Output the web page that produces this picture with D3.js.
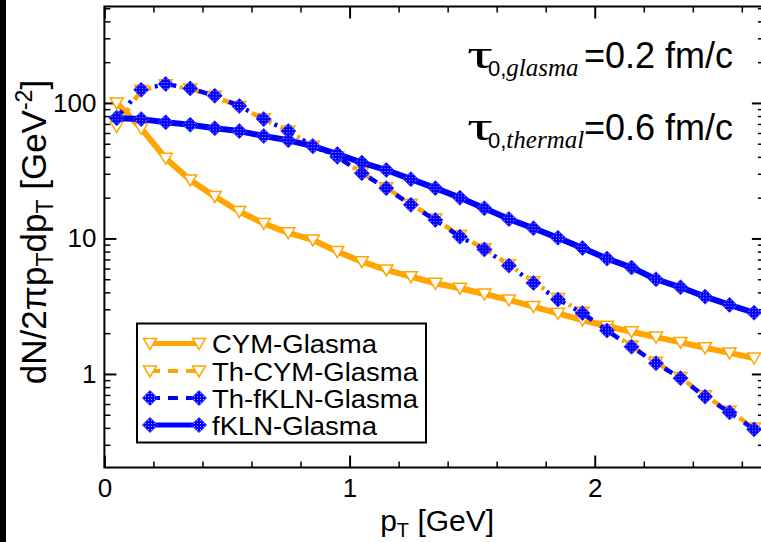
<!DOCTYPE html>
<html><head><meta charset="utf-8">
<script src="https://cdn.jsdelivr.net/npm/d3@7"></script>
<style>body{margin:0;background:#fff} svg{display:block}</style>
</head><body><svg id="chart" width="761" height="542"></svg>
<script>
// ---- data ----
const pT = [0.05,0.15,0.25,0.35,0.45,0.55,0.65,0.75,0.85,0.95,1.05,1.15,1.25,1.35,1.45,1.55,1.65,1.75,1.85,1.95,2.05,2.15,2.25,2.35,2.45,2.55,2.65];
const cymGlasma = [100,65,39,27,20.4,15.8,12.9,11.0,9.75,8.0,6.74,5.86,5.22,4.67,4.29,3.89,3.52,3.14,2.8,2.5,2.25,2.05,1.87,1.71,1.56,1.43,1.31];
const thCymGlasma = [67,124,136,127,112,94,76,62,48,40,30.5,23.7,17.9,13.9,10.5,8.4,6.4,4.8,3.6,2.85,2.12,1.61,1.22,0.94,0.69,0.53,0.40];
const thFklnGlasma = [78,125,138,128,113,95,76,62,48,40,30.3,23.5,17.7,13.7,10.3,8.3,6.3,4.7,3.55,2.81,2.09,1.59,1.20,0.93,0.68,0.52,0.39];
const fklnGlasma = [77,76,72,69,65,62,57,53,48,42,36.3,32.0,27.4,23.5,20.0,16.7,13.9,11.9,10.1,8.5,7.1,6.1,5.0,4.36,3.72,3.23,2.83];
const seriesNames = ["CYM-Glasma","Th-CYM-Glasma","Th-fKLN-Glasma","fKLN-Glasma"];
const xMajorTicks = [0,1,2];
const xMinorTicks = [0.2,0.4,0.6,0.8,1.2,1.4,1.6,1.8,2.2,2.4,2.6];
const yMajorTicks = [1,10,100];
const yMinorTicks = [0.3,0.4,0.5,0.6,0.7,0.8,0.9,2,3,4,5,6,7,8,9,20,30,40,50,60,70,80,90,200,300,400,500];

// ---- layout ----
const L = 104.4, R = 763.9, T = 6.5, B = 467.5;
const ORANGE = "#ffa500", BLUE = "#0000ff";
const SANS = "'Liberation Sans', Arial, Helvetica, sans-serif";
const SERIF = "'Liberation Serif', 'Times New Roman', serif";

const svg = d3.select("#chart");
svg.append("rect").attr("width",761).attr("height",542).attr("fill","#fff");
svg.append("rect").attr("x",0).attr("y",0).attr("width",6).attr("height",542).attr("fill","#000");

const defs = svg.append("defs");
const pat = defs.append("pattern").attr("id","dots").attr("width",3).attr("height",3)
  .attr("patternUnits","userSpaceOnUse");
pat.append("rect").attr("width",3).attr("height",3).attr("fill",BLUE);
pat.append("rect").attr("x",1).attr("y",1).attr("width",1).attr("height",1).attr("fill","#a0a0ff");

const x = d3.scaleLinear().domain([0,2.69]).range([L,R]);
const y = d3.scaleLog().domain([0.204,515]).range([B,T]);

// ---- axes ----
function styleAxis(g, w){
  g.select(".domain").remove();
  g.selectAll(".tick line").attr("stroke","#000").attr("stroke-width",w);
  g.selectAll(".tick text").attr("font-family",SANS).attr("font-size",26).attr("fill","#000");
}
const ax = [
  [d3.axisBottom(x).tickValues(xMajorTicks).tickSize(-12).tickPadding(11).tickFormat(d3.format("d")), `translate(0,${B})`, 2],
  [d3.axisBottom(x).tickValues(xMinorTicks).tickSize(-6).tickFormat(""), `translate(0,${B})`, 1.5],
  [d3.axisTop(x).tickValues(xMajorTicks).tickSize(-12).tickFormat(""), `translate(0,${T})`, 2],
  [d3.axisTop(x).tickValues(xMinorTicks).tickSize(-6).tickFormat(""), `translate(0,${T})`, 1.5],
  [d3.axisLeft(y).tickValues(yMajorTicks).tickSize(-12).tickPadding(8).tickFormat(d3.format("d")), `translate(${L},0)`, 2],
  [d3.axisLeft(y).tickValues(yMinorTicks).tickSize(-6).tickFormat(""), `translate(${L},0)`, 1.5],
  [d3.axisRight(y).tickValues(yMajorTicks).tickSize(-12).tickFormat(""), `translate(${R},0)`, 2],
  [d3.axisRight(y).tickValues(yMinorTicks).tickSize(-6).tickFormat(""), `translate(${R},0)`, 1.5]
];
ax.forEach(([a,t,w]) => { const g = svg.append("g").attr("transform",t).call(a); styleAxis(g,w); });

// ---- series ----
const series = [
  {name:seriesNames[0], vals:cymGlasma, color:ORANGE, dash:null, marker:"tri", width:6, legendLen:165},
  {name:seriesNames[1], vals:thCymGlasma, color:ORANGE, dash:"9,10,3,10", marker:"tri", width:4.5, legendLen:206},
  {name:seriesNames[2], vals:thFklnGlasma, color:BLUE, dash:"9,10,3,10", marker:"dia", width:4.5, legendLen:206},
  {name:seriesNames[3], vals:fklnGlasma, color:BLUE, dash:null, marker:"dia", width:6, legendLen:165}
];
const TRI = "M-6.5,-5L6.5,-5L0,6Z";
const DIA = "M0,-7.5L7.5,0L0,7.5L-7.5,0Z";
function drawMarker(g, s, px, py){
  if (s.marker === "tri") {
    g.append("path").attr("d",TRI).attr("transform",`translate(${px},${py})`)
      .attr("fill","#fff").attr("stroke",s.color).attr("stroke-width",1.5);
  } else {
    g.append("path").attr("d",DIA).attr("transform",`translate(${px},${py})`)
      .attr("fill","url(#dots)").attr("stroke","#3a3aff").attr("stroke-width",1);
  }
}
const line = d3.line().x(d=>x(d[0])).y(d=>y(d[1]));
const plot = svg.append("g");
series.forEach(s => {
  const pts = pT.map((p,i)=>[p,s.vals[i]]);
  plot.append("path").datum(pts).attr("d",line).attr("fill","none")
    .attr("stroke",s.color).attr("stroke-width",s.width)
    .attr("stroke-dasharray",s.dash).attr("stroke-linejoin","round");
  const mg = plot.append("g");
  pts.forEach(d => drawMarker(mg, s, x(d[0]), y(d[1])));
});

// ---- frame ----
svg.append("rect").attr("x",L).attr("y",T).attr("width",R-L).attr("height",B-T)
  .attr("fill","none").attr("stroke","#000").attr("stroke-width",2);

// ---- legend ----
const lg = svg.append("g");
lg.append("rect").attr("x",137).attr("y",323.5).attr("width",289).attr("height",119)
  .attr("fill","#fff").attr("stroke","#000").attr("stroke-width",2);
const rowY = [343.5,371,398,425];
series.forEach((s,i) => {
  const yy = rowY[i];
  lg.append("line").attr("x1",150).attr("x2",199).attr("y1",yy).attr("y2",yy)
    .attr("stroke",s.color).attr("stroke-width",s.dash?4:5).attr("stroke-dasharray",s.dash?"10,8":null);
  drawMarker(lg, s, 150, yy);
  drawMarker(lg, s, 199, yy);
  lg.append("text").attr("x",212).attr("y",yy+9.5).attr("font-family",SANS).attr("font-size",25)
    .attr("textLength",s.legendLen).attr("lengthAdjust","spacingAndGlyphs")
    .text(s.name);
});

// ---- axis titles ----
svg.append("text").attr("x",(L+R)/2+3).attr("y",531).attr("text-anchor","middle")
  .attr("font-family",SANS).attr("font-size",30)
  .call(t => { t.append("tspan").text("p");
               t.append("tspan").attr("font-size",20).attr("dy",6).text("T");
               t.append("tspan").attr("dy",-6).text(" [GeV]"); });
svg.append("text").attr("transform",`translate(46,232) rotate(-90)`).attr("text-anchor","middle")
  .attr("font-family",SANS).attr("font-size",35)
  .call(t => { t.append("tspan").text("dN/2πp");
               t.append("tspan").attr("font-size",23).attr("dy",7).text("T");
               t.append("tspan").attr("dy",-7).text("dp");
               t.append("tspan").attr("font-size",23).attr("dy",7).text("T");
               t.append("tspan").attr("dy",-7).text(" [GeV");
               t.append("tspan").attr("font-size",23).attr("dy",-14).text("-2");
               t.append("tspan").attr("dy",14).text("]"); });

// ---- annotations ----
function annot(base, sub, rest){
  svg.append("text").attr("x",467).attr("y",base).attr("font-family",SERIF).attr("font-size",42)
    .attr("textLength",26).attr("lengthAdjust","spacingAndGlyphs").text("τ");
  const st = svg.append("text").attr("x",488).attr("y",base+8);
  st.append("tspan").attr("font-family",SANS).attr("font-size",22).text("0,");
  st.append("tspan").attr("font-family",SERIF).attr("font-style","italic").attr("font-size",25).text(sub);
  svg.append("text").attr("x",733).attr("y",base).attr("text-anchor","end")
    .attr("font-family",SANS).attr("font-size",36).text(rest);
}
annot(68,"glasma","=0.2 fm/c");
annot(140,"thermal","=0.6 fm/c");
</script></body></html>
